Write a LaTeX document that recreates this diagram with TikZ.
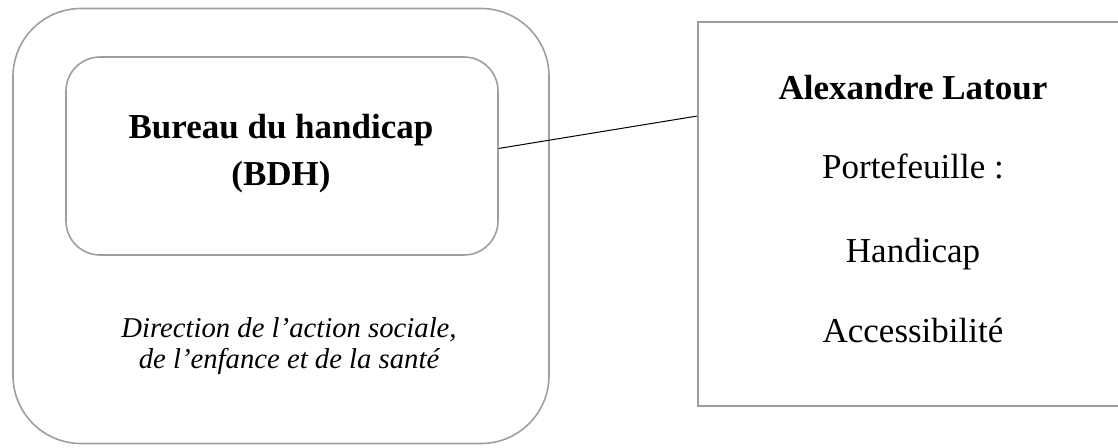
\documentclass[tikz,border=0pt]{standalone}
\usepackage{fontspec}
\setmainfont{Liberation Serif}
\usetikzlibrary{positioning}

\tikzset{
  frame/.style={draw=black!38, line width=1.6pt, inner sep=0pt},
  label/.style={anchor=base, inner sep=0pt, align=center},
}

\begin{document}
\begin{tikzpicture}[x=1pt, y=-1pt]
\useasboundingbox (0,0) rectangle (1118,447);

% direction box with the bureau inside
\node[frame, rounded corners=68pt, minimum width=536pt, minimum height=435pt] (dir) at (281,226) {};
\node[frame, rounded corners=34pt, minimum width=432pt, minimum height=198pt] (bdh) at (282,156) {};
\node[label, font=\fontsize{35}{47}\selectfont\bfseries] (bdhname) at (281,185) {Bureau du handicap\\(BDH)};
\node[label, font=\fontsize{28.7}{31}\selectfont\itshape] (dirname) at (289,368) {Direction de l’action sociale,\\de l’enfance et de la santé};

% person box (runs past the right edge)
\node[frame, minimum width=460pt, minimum height=384pt] (person) at (928,214) {};
\node[label, font=\fontsize{35}{42}\selectfont\bfseries] (name) at (913,99) {Alexandre Latour};
\node[label, font=\fontsize{35}{42}\selectfont] (folio) at (913,178) {Portefeuille :};
\node[label, font=\fontsize{35}{42}\selectfont] (hand) at (913,262) {Handicap};
\node[label, font=\fontsize{35}{42}\selectfont] (acc) at (913,342) {Accessibilité};

\draw[line width=1pt] (bdh.2) -- (person.157);

\end{tikzpicture}
\end{document}
